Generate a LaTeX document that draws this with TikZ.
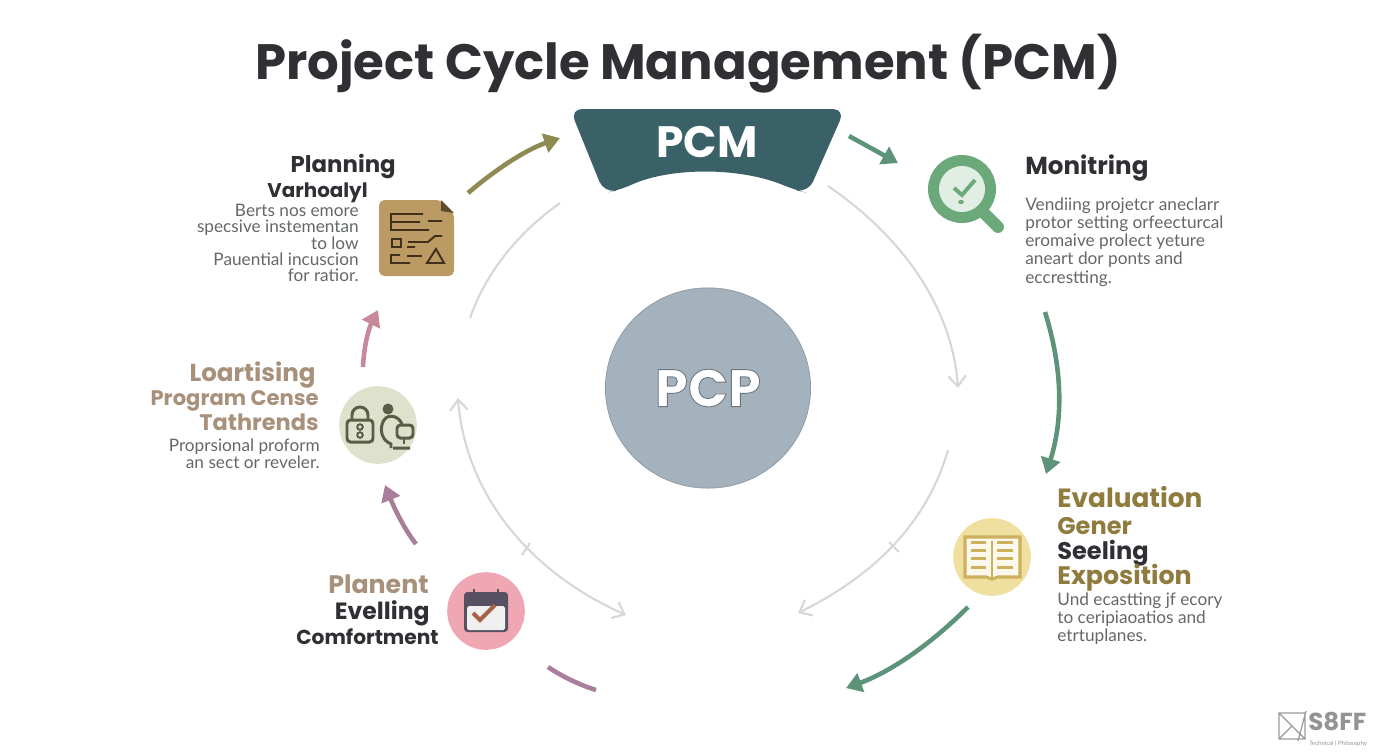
\documentclass[tikz,border=0pt]{standalone}
\usepackage{fontspec}
\setmainfont{Lato}
\setsansfont{Poppins}
\usetikzlibrary{arrows.meta,shapes.geometric}
\definecolor{darktext}{HTML}{2E3033}
\definecolor{bodygrey}{HTML}{64676A}
\definecolor{tantext}{HTML}{A8917A}
\definecolor{olivetext}{HTML}{8E7B3D}
\definecolor{pcmteal}{HTML}{3A6068}
\definecolor{pcpblue}{HTML}{A3B2BD}
\definecolor{arcgrey}{HTML}{D6D7D7}
\definecolor{seagreen}{HTML}{5C9379}
\definecolor{olivearrow}{HTML}{8F8A52}
\definecolor{pinkarrow}{HTML}{C68A9A}
\definecolor{plumarrow}{HTML}{A87E9A}
\definecolor{docfill}{HTML}{BC9A63}
\definecolor{docline}{HTML}{3F2F1B}
\definecolor{lockfill}{HTML}{DEE1CB}
\definecolor{lockline}{HTML}{5A5D46}
\definecolor{glassgreen}{HTML}{6BA87A}
\definecolor{bookfill}{HTML}{EFE0A0}
\definecolor{bookline}{HTML}{CDB05E}
\definecolor{calfill}{HTML}{F0A7B4}
\definecolor{caldark}{HTML}{574F62}
\definecolor{calcheck}{HTML}{A8624A}

\begin{document}
\begin{tikzpicture}[x=0.02cm,y=-0.02cm,
   headtext/.style={inner sep=0pt,font=\sffamily\bfseries\fontsize{#1}{15}\selectfont,text=darktext},
   bodytext/.style={inner sep=0pt,font=\fontsize{9.8}{9.2}\selectfont,text=bodygrey},
   arcline/.style={draw=arcgrey,line width=1.2pt,-{Straight Barb[length=6pt,width=10pt]}},
   flowarrow/.style={line width=2.6pt,-{Triangle[length=9pt,width=11pt]}},
   iconcircle/.style={circle,minimum size=44.2pt,inner sep=0pt}]

\useasboundingbox (0,0) rectangle (1392,752);

\node (title) [anchor=base,inner sep=0pt,font=\sffamily\bfseries\fontsize{28.3}{34}\selectfont,text=darktext]
   at (688,79) {Project Cycle Management (PCM)};

% top banner and centre
\fill[pcmteal,rounded corners=7pt] (570,109) -- (845,109) -- (808,193) -- (795,190)
   .. controls (740,167) and (670,167) .. (620,190) -- (604,193) -- cycle;
\node (pcm) [inner sep=0pt,font=\sffamily\bfseries\fontsize{25}{28}\selectfont,text=white] at (707,142) {PCM};
\node (pcp) [ellipse,minimum width=116.8pt,minimum height=114pt,inner sep=0pt,fill=pcpblue,draw=pcpblue!85!black,line width=.4pt,
   font=\sffamily\bfseries\fontsize{30}{34}\selectfont,text=white] at (708,388)
   {\special{pdf:code 2 Tr 0.5 w 0.42 0.46 0.5 RG}PCP\special{pdf:code 0 Tr}};

% thin grey ring
\coordinate (arcone) at (560,203);
\coordinate (arctwo) at (470,318);
\coordinate (arcthree) at (828,186);
\coordinate (arcfour) at (958,388);
\coordinate (arcfive) at (948,450);
\coordinate (arcsix) at (798,613);
\coordinate (arcseven) at (458,398);
\coordinate (arceight) at (626,615);
\draw[arcgrey,line width=1.2pt] (arcone) .. controls (515,235) and (485,275) .. (arctwo);
\draw[arcline] (arcthree) .. controls (900,235) and (952,305) .. (arcfour);
\draw[arcline] (arcfive) .. controls (925,530) and (865,580) .. (arcsix);
\draw[arcline,{Straight Barb[length=6pt,width=10pt]}-{Straight Barb[length=6pt,width=10pt]}] (arcseven)
   .. controls (465,490) and (525,570) .. (arceight);
\draw[arcgrey,line width=1.2pt] (522,555) -- (530,543);
\draw[arcgrey,line width=1.2pt] (889,542) -- (899,552);

% coloured arrows
\coordinate (olivea) at (468,193);
\coordinate (oliveb) at (560,138);
\coordinate (tealb) at (849,136);
\coordinate (tealc) at (898,163);
\coordinate (greena) at (1045,312);
\coordinate (greenb) at (1046,474);
\coordinate (greenc) at (968,607);
\coordinate (greend) at (846,688);
\coordinate (pluma) at (548,667);
\coordinate (plumb) at (596,690);
\coordinate (mauvea) at (416,544);
\coordinate (mauveb) at (385,485);
\coordinate (pinka) at (363,367);
\coordinate (pinkb) at (378,310);
\draw[flowarrow,olivearrow] (olivea) .. controls (495,170) and (525,150) .. (oliveb);
\draw[flowarrow,seagreen] (tealb) -- (tealc);
\draw[flowarrow,seagreen] (greena) .. controls (1063,370) and (1063,420) .. (greenb);
\draw[flowarrow,seagreen] (greenc) .. controls (930,645) and (890,672) .. (greend);
\draw[plumarrow,line width=2.6pt] (pluma) .. controls (563,677) and (580,685) .. (plumb);
\draw[flowarrow,plumarrow] (mauvea) .. controls (405,530) and (395,510) .. (mauveb);
\draw[flowarrow,pinkarrow] (pinka) .. controls (364,345) and (369,328) .. (pinkb);

% planning
\node (planhead) [headtext=13,anchor=base east] at (396,172) {Planning};
\node (planhead2) [headtext=11.3,anchor=base east] at (368,197) {Varhoalyl};
\node (planbody) [bodytext,align=right,anchor=north east] at (359,204)
   {Berts nos emore\\specsive instementan\\to low\\Pauential incuscion\\for ratior.};
\fill[docfill,rounded corners=3pt] (379,200) -- (441,200) -- (454,213) -- (454,276) -- (379,276) -- cycle;
\fill[docline!75!docfill] (441,200) -- (454,213) -- (441,211) -- cycle;
\draw[docline,line width=1.1pt] (423,214) -- (391,214) -- (391,230) -- (429,230) (391,222) -- (420,222)
   (428,221) -- (442,221) (392,239) rectangle (401,247) (408,242) -- (428,242) -- (435,236) -- (442,236)
   (407,247) -- (415,247) (400,255) -- (391,255) -- (391,263) -- (410,263) (407,256) -- (422,256)
   (436,249) -- (427,263) -- (444,263) -- cycle;

% loartising
\node (loarhead) [headtext=14,anchor=base east,text=tantext] at (316,381) {Loartising};
\node (loarhead2) [headtext=12,anchor=base east,text=tantext] at (319,405) {Program Cense};
\node (loarhead3) [headtext=12.8,anchor=base east,text=tantext] at (319,430) {Tathrends};
\node (loarbody) [bodytext,align=right,anchor=north east] at (320,438)
   {Proprsional proform\\[1pt]an sect or reveler.};
\node (lockicon) [iconcircle,fill=lockfill] at (378,425) {};
\draw[lockline,line width=1.7pt,rounded corners=2pt] (347,420) rectangle (373,442);
\draw[lockline,line width=1.7pt] (352,420) -- (352,415) arc[start angle=180,end angle=0,x radius=8,y radius=-8] -- (368,420);
\draw[lockline,line width=1.1pt] (360,427) circle[radius=2.8] (360,435) circle[radius=2.8];
\fill[lockline] (388,409) circle[radius=5.5];
\draw[lockline,line width=1.7pt] (402,424) .. controls (398,415) and (388,414) .. (384,420)
   .. controls (379,428) and (381,440) .. (391,444) -- (391,448) (393,448) -- (410,448);
\draw[lockline,line width=1.7pt,rounded corners=2pt] (397,425) rectangle (413,438);
\draw[lockline,line width=1.7pt] (404,438) -- (404,444);

% planent
\node (planenthead) [headtext=14.4,anchor=base east,text=tantext] at (429,593) {Planent};
\node (planenthead2) [headtext=13.4,anchor=base east] at (430,619) {Evelling};
\node (planenthead3) [headtext=11.5,anchor=base east] at (439,644) {Comfortment};
\node (calicon) [iconcircle,fill=calfill] at (486,611) {};
\fill[caldark,rounded corners=2pt] (464,592) rectangle (508,632);
\fill[white!94!black,rounded corners=1pt] (467,606) rectangle (505,630);
\draw[caldark,line width=1.2pt] (474,589) -- (474,594) (498,589) -- (498,594);
\draw[calcheck,line width=2.3pt] (473,613) -- (480,620) -- (495,605);

% monitring
\node (monhead) [headtext=14,anchor=base west] at (1025,174) {Monitring};
\node (monbody) [bodytext,align=left,anchor=north west] at (1025,197)
   {Vendiing projetcr aneclarr\\[1.2pt]protor setting orfeecturcal\\[1.2pt]eromaive prolect yeture\\[1.2pt]aneart dor ponts and\\[1.2pt]eccrestting.};
\draw[glassgreen,line width=6.8pt,line cap=round] (984,213) -- (998,227);
\node (glassicon) [circle,minimum size=32.5pt,inner sep=0pt,draw=glassgreen,line width=6.2pt,fill=glassgreen!20!white] at (962,189) {};
\draw[glassgreen,line width=2.2pt] (954,188) -- (962,195) -- (975,180);
\fill[glassgreen] (961,202) ellipse[x radius=3,y radius=2];

% evaluation
\node (evalhead) [headtext=15,anchor=base west,text=olivetext] at (1057,507) {Evaluation};
\node (evalhead2) [headtext=13.7,anchor=base west,text=olivetext] at (1057,534) {Gener};
\node (evalhead3) [headtext=13.7,anchor=base west] at (1057,559) {Seeling};
\node (evalhead4) [headtext=14.4,anchor=base west,text=olivetext] at (1057,584) {Exposition};
\node (evalbody) [bodytext,align=left,anchor=north west] at (1057,592)
   {Und ecastting jf ecory\\[1.2pt]to ceripiaoatios and\\[1.2pt]etrtuplanes.};
\node (bookicon) [iconcircle,fill=bookfill] at (992,557) {};
\filldraw[draw=bookline,fill=white!80!bookfill,line width=1.8pt] (965,537) -- (1020,537) -- (1020,577)
   -- (998,577) -- (992,579) -- (986,577) -- (965,577) -- cycle;
\draw[bookline,line width=1pt] (992,541) -- (992,577);
\foreach \ly in {542,550,558,567}
   \draw[bookline,line width=1.7pt] (971,\ly) -- (986,\ly) (997,\ly) -- (1013,\ly);

% logo
\draw[gray!80,line width=.7pt] (1279,713) rectangle (1305,739) (1279,713) -- (1305,739) (1298,741) -- (1306,711)
   (1279,739) -- (1292,726);
\node (logo) [anchor=base west,inner sep=0pt,font=\sffamily\bfseries\fontsize{14}{16}\selectfont,text=gray!85] at (1308,730) {S8FF};
\node (logosub) [anchor=base west,inner sep=0pt,font=\fontsize{3.4}{4}\selectfont,text=gray!85] at (1309,745) {Technical | Philosophy};

\end{tikzpicture}
\end{document}
